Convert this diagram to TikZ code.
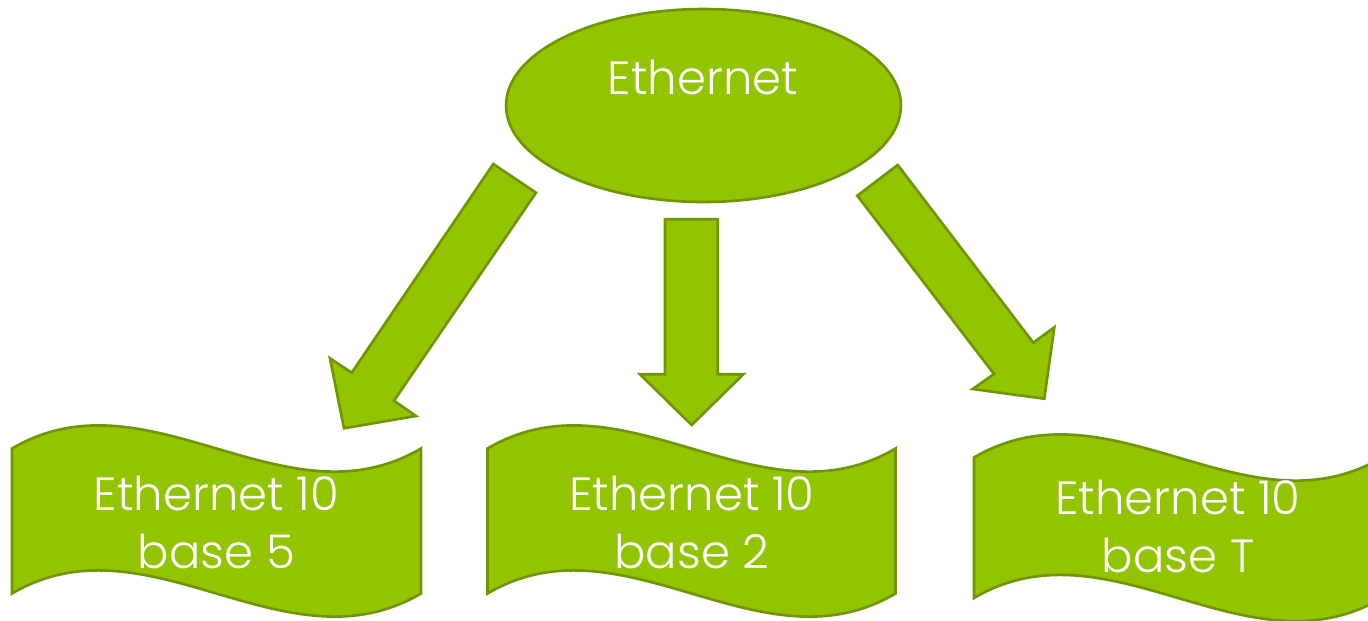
\documentclass[tikz,border=0pt]{standalone}
\usepackage{fontspec}
\setmainfont{Poppins}[UprightFont={* Light}]
\usetikzlibrary{shapes.geometric}
\definecolor{fillg}{RGB}{147,196,0}
\definecolor{edgeg}{RGB}{111,150,0}
\tikzset{
  shapestyle/.style={fill=fillg, draw=edgeg, line width=1.5pt, line join=miter},
  bigtext/.style={text=white, font=\fontsize{26.5}{33}\selectfont, inner sep=0pt},
  bantext/.style={text=white, font=\fontsize{26.5}{33}\selectfont, align=center, inner sep=0pt},
}
\newcommand{\wavebanner}[5]{% #1 left x, #2 width, #3 top y at edges, #4 bottom y at edges, #5 name
  \path[shapestyle] (#1,#3)
    .. controls ({#1+#2/3},{#3-80}) and ({#1+2*#2/3},{#3+80}) .. ({#1+#2},#3)
    -- ({#1+#2},#4)
    .. controls ({#1+2*#2/3},{#4+80}) and ({#1+#2/3},{#4-80}) .. (#1,#4)
    -- cycle;
  \coordinate (#5) at ({#1+#2/2},{(#3+#4)/2});
}
\begin{document}
\begin{tikzpicture}[x=0.02cm, y=-0.02cm]
\useasboundingbox (0,0) rectangle (1368,620);
% top ellipse
\node[ellipse, shapestyle, minimum width=7.9cm, minimum height=3.86cm, inner sep=0pt] (eth) at (703.5,105.5) {};
\node[bigtext, anchor=base] (ethtext) at (703,94) {Ethernet};
% arrows
\path[shapestyle] (493.3,164) -- (536,192.7) -- (394,400.7) -- (416,416) -- (344,428.3) -- (330,358.3) -- (351.7,372.7) -- cycle;
\path[shapestyle] (665,219.3) -- (717.7,219.3) -- (717.7,374.3) -- (743.3,374.3) -- (691.7,425) -- (640,374.3) -- (665,374.3) -- cycle;
\path[shapestyle] (897.7,165) -- (857.3,195.7) -- (994,374) -- (972.7,389) -- (1044.3,398.7) -- (1054.3,327.3) -- (1033.3,342.7) -- cycle;
% banners
\wavebanner{12}{409}{448.5}{593.5}{b1}
\wavebanner{487.5}{408}{448.5}{593.5}{b2}
\wavebanner{974}{408}{457.5}{598}{b3}
\node[bantext] (t1) at (216.5,522) {Ethernet 10\\base 5};
\node[bantext] (t2) at (692,522) {Ethernet 10\\base 2};
\node[bantext] (t3) at (1178,526) {Ethernet 10\\base T};
\end{tikzpicture}
\end{document}
